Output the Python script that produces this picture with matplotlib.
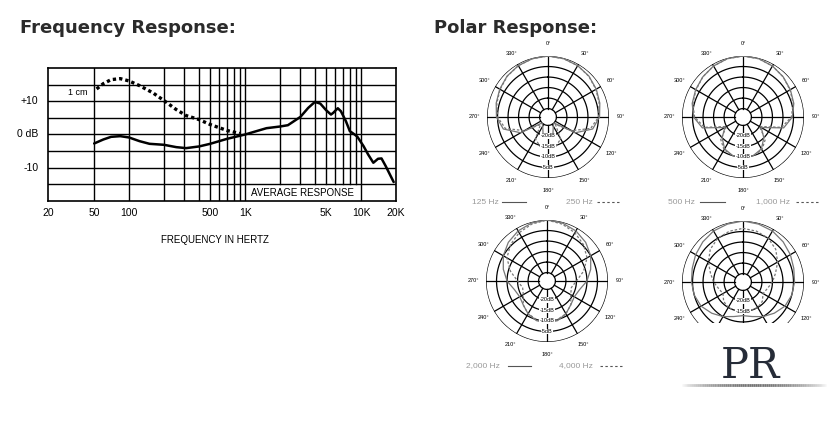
import numpy as np
import matplotlib
matplotlib.use("Agg")
import matplotlib.pyplot as plt
from matplotlib.lines import Line2D
from matplotlib.patches import Rectangle
from matplotlib.collections import LineCollection

# ---------------- data ----------------
freq_avg = [50, 60, 70, 84, 100, 123, 150, 200, 255, 310, 400, 500, 700, 1000, 1250, 1530,
            2000, 2340, 3000, 3500, 4000, 4450, 5000, 5500, 5750, 6300, 6700, 7400, 8000,
            8800, 9300, 10500, 11500, 12750, 14000, 15000, 16300, 19100]
db_avg = [-2.7, -1.5, -0.7, -0.5, -0.9, -2.0, -2.8, -3.1, -3.8, -4.1, -3.6, -2.8, -1.3, 0.0,
          1.0, 1.9, 2.4, 2.8, 5.3, 8.0, 9.8, 9.3, 7.3, 6.0, 6.5, 7.9, 7.0, 4.0, 1.0, 0.0,
          -0.7, -3.5, -6.0, -8.5, -7.3, -7.2, -9.5, -14.3]
freq_1cm = [52.5, 60, 70, 84, 100, 123, 161, 200, 255, 310, 400, 500, 700, 900]
db_1cm = [13.7, 15.3, 16.5, 16.8, 16.1, 14.7, 12.5, 10.2, 7.5, 5.7, 4.5, 3.0, 1.2, 0.3]

x_tick_vals = [20, 50, 100, 500, 1000, 5000, 10000, 20000]
x_tick_labels = ["20", "50", "100", "500", "1K", "5K", "10K", "20K"]
y_tick_vals = [10, 0, -10]
y_tick_labels = ["+10", "0 dB", "-10"]
grid_full = [50, 100, 200, 300, 400, 500, 600, 700, 800, 900, 1000, 10000]
grid_short = [2000, 3000, 4000, 5000, 6000, 7000, 8000, 9000]

polar_angles = [0, 15, 30, 45, 60, 75, 90, 105, 120, 135, 150, 165, 180]
resp_125 = [0, -0.3, -0.8, -1.5, -2.5, -3.5, -4.5, -7, -14, -25, -24, -20, -19]
resp_250 = [0, -0.3, -0.8, -1.6, -2.7, -3.8, -5, -8, -16, -24, -17, -14.5, -14]
resp_500 = [0, -0.3, -1, -2, -3, -4, -5.5, -9, -19, -15, -11.5, -10, -9.5]
resp_1000 = [0, -0.3, -1, -2, -3.2, -4.3, -6, -10, -20, -14, -11, -10, -10]
resp_2000 = [0, -0.5, -1.5, -3, -5, -7.5, -10, -13, -14, -13, -11, -9.5, -9]
resp_4000 = [0, -1, -2.5, -4.5, -7, -11, -15, -17, -16, -13, -11, -10, -9.5]
resp_8000a = [0, -0.5, -1, -2, -3, -4, -4.5, -5, -6, -8, -10, -12, -13]
resp_8000b = [-3.5, -4, -5, -7, -10, -13, -15, -17, -18, -16, -15, -15, -15]
ring_labels = ["-20dB", "-15dB", "-10dB", "-5dB"]
ring_levels = [-20, -15, -10, -5]
angle_labels = [0, 30, 60, 90, 120, 150, 180, 210, 240, 270, 300, 330]

W, H = 840, 425
fig = plt.figure(figsize=(8.4, 4.25), dpi=100)
fig.patch.set_facecolor("white")


def fx(x):
    return x / W


def fy(y):
    return 1 - y / H


SANS = ["Liberation Sans", "DejaVu Sans"]

# ---------------- titles ----------------
fig.text(fx(20), fy(28), "Frequency Response:", fontsize=13, fontweight="bold",
         family=["DejaVu Sans"], color="#2b2b2b", va="center", ha="left")
fig.text(fx(434), fy(28), "Polar Response:", fontsize=13, fontweight="bold",
         family=["DejaVu Sans"], color="#2b2b2b", va="center", ha="left")

# ---------------- frequency response ----------------
L, R, T, B = 48, 396, 68, 201
ax = fig.add_axes([fx(L), fy(B), (R - L) / W, (B - T) / H])
ax.set_xscale("log")
ax.set_xlim(20, 20000)
ax.set_ylim(-20, 20)
for y in range(-15, 20, 5):
    ax.axhline(y, color="black", lw=1.0, zorder=1)
for f in grid_full:
    ax.plot([f, f], [-20, 20], color="black", lw=1.0, zorder=1)
for f in grid_short:
    ax.plot([f, f], [-15, 20], color="black", lw=1.0, zorder=1)
ax.plot(freq_avg, db_avg, color="black", lw=1.8, zorder=3, solid_capstyle="round")
ax.plot(freq_1cm, db_1cm, color="black", lw=2.4, ls=(0, (1, 0.9)), zorder=3)
ax.text(36, 12.6, "1 cm", fontsize=6.5, family=SANS, ha="center", va="center")
ax.text(3150, -17.5, "AVERAGE RESPONSE", fontsize=7, family=SANS, ha="center", va="center")
ax.set_xticks([])
ax.set_yticks([])
ax.minorticks_off()
for s in ax.spines.values():
    s.set_linewidth(1.2)
for v, lab in zip(x_tick_vals, x_tick_labels):
    ax.text(v, -23.5, lab, fontsize=7.5, family=SANS, ha="center", va="center",
            transform=ax.transData, clip_on=False)
for v, lab in zip(y_tick_vals, y_tick_labels):
    ax.text(16.5, v, lab, fontsize=7.5, family=SANS, ha="right", va="center", clip_on=False)
fig.text(fx(215), fy(240), "FREQUENCY IN HERTZ", fontsize=7, family=SANS, ha="center", va="center")

# ---------------- polar plots ----------------
full_angles = polar_angles + [360 - a for a in polar_angles[::-1][1:]]


def mirror(vals):
    return vals + vals[::-1][1:]


RAD = 61
RMIN = -29


def polar(cx, cy, curves, cut=None):
    pa = fig.add_axes([fx(cx - RAD), fy(cy + RAD), 2 * RAD / W, 2 * RAD / H], projection="polar")
    pa.set_theta_zero_location("N")
    pa.set_theta_direction(-1)
    pa.set_ylim(RMIN, 0)
    pa.grid(False)
    pa.set_xticks([])
    pa.set_yticks([])
    pa.spines["polar"].set_visible(False)
    pa.patch.set_alpha(0)
    th = np.linspace(0, 2 * np.pi, 361)
    for lev in [-25, -20, -15, -10, -5, 0]:
        pa.plot(th, np.full_like(th, lev), color="black", lw=0.9, zorder=2)
    for a in range(0, 360, 30):
        t = np.deg2rad(a)
        pa.plot([t, t], [-25, 0], color="black", lw=0.9, zorder=2)
    for vals, ls in curves:
        pa.plot(np.deg2rad(full_angles), mirror(vals), color="#777777", lw=0.9, ls=ls, zorder=3)
    for lev, lab in zip(ring_levels, ring_labels):
        ypix = cy + (lev - RMIN) / (-RMIN) * RAD
        if cut is not None and ypix > cut - 3:
            continue
        pa.text(np.pi, lev, lab, fontsize=4, family=SANS, ha="center", va="center", zorder=4,
                bbox=dict(boxstyle="square,pad=0.05", fc="white", ec="none"))
    for a in angle_labels:
        t = np.deg2rad(a)
        ypix = cy - 1.2 * RAD * np.cos(t)
        if cut is not None and ypix > cut - 3:
            continue
        pa.text(0.5 + 0.6 * np.sin(t), 0.5 + 0.6 * np.cos(t), f"{a}°", fontsize=4,
                family=SANS, ha="center", va="center", transform=pa.transAxes, clip_on=False)
    return pa


polar(548, 117, [(resp_125, "-"), (resp_250, (0, (2, 1.5)))])
polar(743, 117, [(resp_500, "-"), (resp_1000, (0, (2, 1.5)))])
polar(547, 281, [(resp_2000, "-"), (resp_4000, (0, (2, 1.5)))])
polar(743, 282, [(resp_8000a, "-"), (resp_8000b, (0, (2, 1.5)))], cut=323)

# white cover for truncated bottom-right plot
fig.add_artist(Rectangle((fx(650), 0), fx(840) - fx(650), fy(323), transform=fig.transFigure,
                         facecolor="white", edgecolor="none", zorder=10))

# ---------------- polar legends ----------------
legend_items = [
    ("125 Hz", 472, 202, 502, 526, "-"),
    ("250 Hz", 566, 202, 597, 620, (0, (2.2, 2.2))),
    ("500 Hz", 668, 202, 700, 725, "-"),
    ("1,000 Hz", 756, 202, 796, 818, (0, (2.2, 2.2))),
    ("2,000 Hz", 466, 366, 508, 531, "-"),
    ("4,000 Hz", 559, 366, 600, 622, (0, (2.2, 2.2))),
]
for lab, x0, y0, l0, l1, ls in legend_items:
    fig.text(fx(x0), fy(y0), lab, fontsize=6, family=SANS, color="#999999", ha="left", va="center")
    fig.add_artist(Line2D([fx(l0), fx(l1)], [fy(y0), fy(y0)], transform=fig.transFigure,
                          color="#555555", lw=0.8, ls=ls))

# ---------------- logo ----------------
fig.text(fx(750), fy(366), "PR", fontsize=30, family=["DejaVu Serif"], color="#262c38",
         ha="center", va="center", zorder=11)
xs = np.linspace(fx(680), fx(828), 80)
segs = [[(xs[i], fy(385)), (xs[i + 1], fy(385))] for i in range(len(xs) - 1)]
alphas = np.sin(np.linspace(0, np.pi, len(segs))) ** 0.8
cols = [(0.45, 0.45, 0.45, a) for a in alphas]
lc = LineCollection(segs, colors=cols, linewidths=2.0, transform=fig.transFigure, zorder=11)
fig.add_artist(lc)

fig.savefig("out.png", dpi=100, facecolor="white")
